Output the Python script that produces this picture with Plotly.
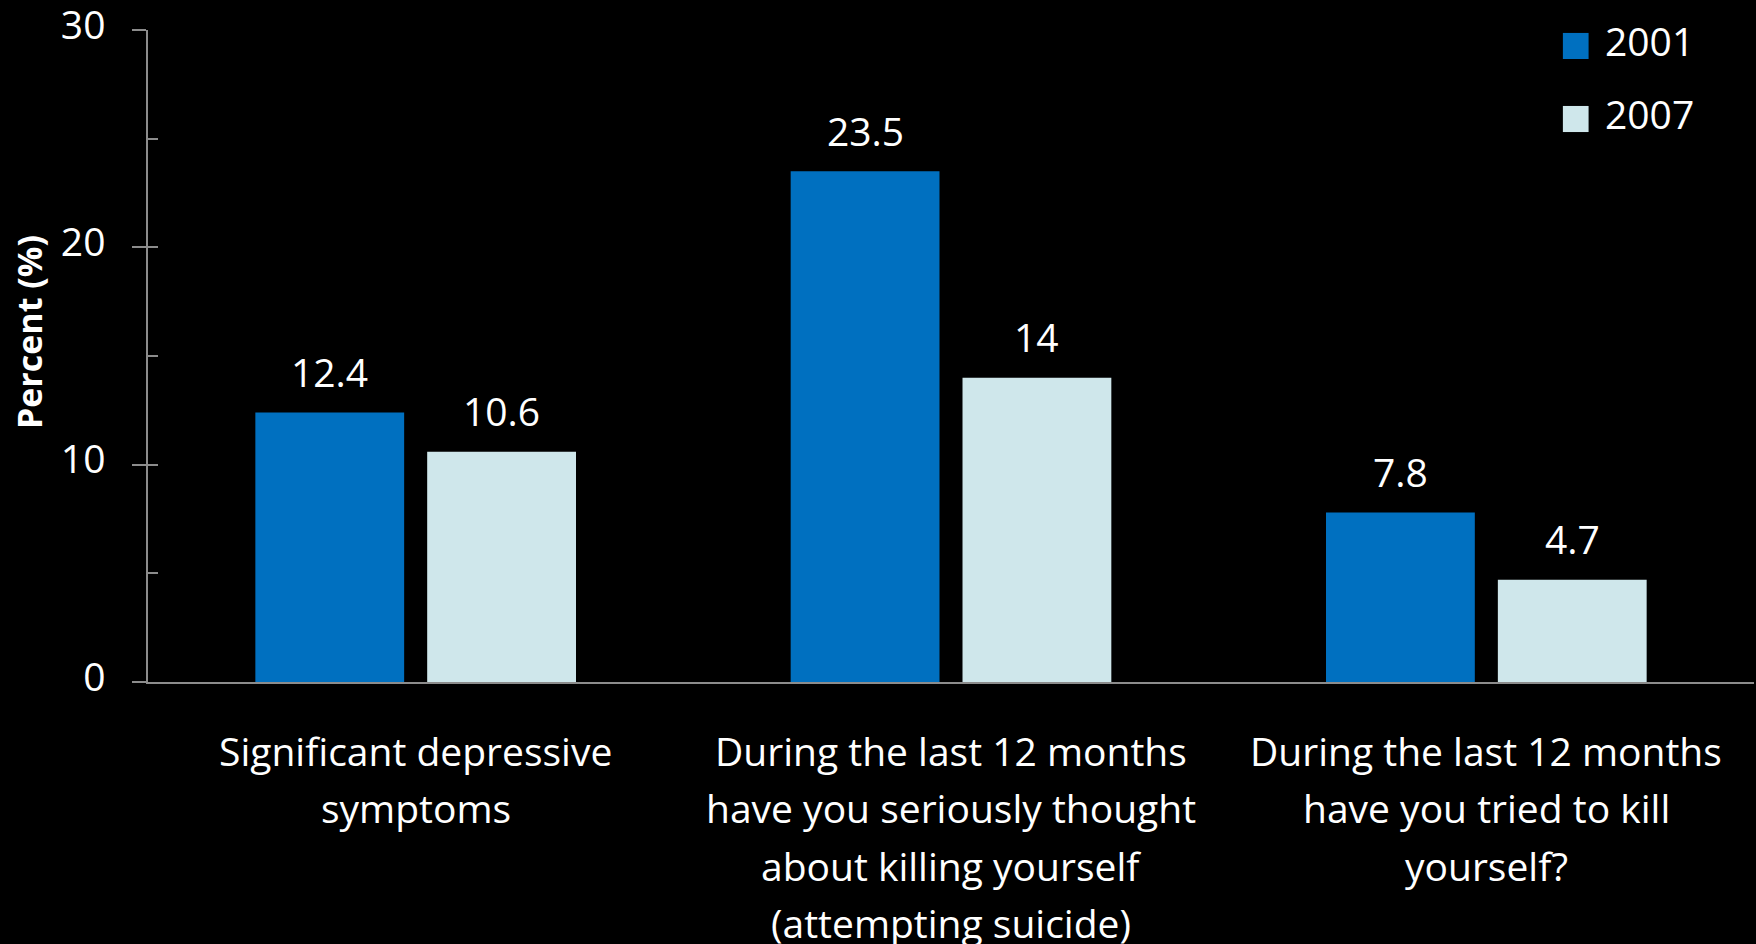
import plotly.graph_objects as go

# ---- data ----
categories = [
    "Significant depressive<br>symptoms",
    "During the last 12 months<br>have you seriously thought<br>about killing yourself<br>(attempting suicide)",
    "During the last 12 months<br>have you tried to kill<br>yourself?",
]
years = ["2001", "2007"]
values_2001 = [12.4, 23.5, 7.8]
values_2007 = [10.6, 14.0, 4.7]
labels_2001 = ["12.4", "23.5", "7.8"]
labels_2007 = ["10.6", "14", "4.7"]
y_tick_vals = [0, 10, 20, 30]
y_title = "Percent (%)"

# ---- style ----
colors = ["#0070C0", "#CFE7EB"]
axis_gray = "#8c8c8c"
FONT = "Open Sans"
FS = 39
BARGAP = 0.358
GROUPGAP = 0.134
LINE_STEP = 57.5    # px between category label lines
FIRST_LINE = 68     # px from axis to first label line centre

series = [values_2001, values_2007]
series_labels = [labels_2001, labels_2007]

fig = go.Figure()
for name, vals, col in zip(years, series, colors):
    fig.add_trace(go.Bar(x=categories, y=vals, name=name, marker_color=col,
                         marker_line_width=0, showlegend=False))

# dummy trace for secondary (inside-tick) y axis
fig.add_trace(go.Scatter(x=[categories[0]], y=[None], yaxis="y2", showlegend=False,
                         hoverinfo="skip"))

annotations = []
slot = (1 - BARGAP) / len(years)
for k, (vals, labs) in enumerate(zip(series, series_labels)):
    off = -(1 - BARGAP) / 2 + slot * (k + 0.5)
    for i, (v, lab) in enumerate(zip(vals, labs)):
        annotations.append(dict(x=i + off, y=v, xref="x", yref="y", text=lab,
                                showarrow=False, yanchor="middle", yshift=41,
                                font=dict(family=FONT, size=FS, color="white")))

# category labels (one annotation per line for the wider line spacing)
for i, cat in enumerate(categories):
    for j, line in enumerate(cat.split("<br>")):
        annotations.append(dict(x=i, y=0, xref="x", yref="y", text=line,
                                showarrow=False, xanchor="center", yanchor="middle",
                                yshift=-(FIRST_LINE + LINE_STEP * j),
                                font=dict(family=FONT, size=FS, color="white")))

# axis title
annotations.append(dict(x=0, y=16.1, xref="paper", yref="y", text="<b>" + y_title + "</b>",
                        textangle=-90, showarrow=False, xanchor="center", yanchor="middle",
                        xshift=-119, font=dict(family=FONT, size=34, color="white")))

# manual legend
shapes = []
leg_y = [0.9755, 0.8635]
for name, col, yc in zip(years, colors, leg_y):
    shapes.append(dict(type="rect", xref="paper", yref="paper",
                       x0=0.881, x1=0.897, y0=yc - 0.02, y1=yc + 0.02,
                       fillcolor=col, line_width=0))
    annotations.append(dict(x=0.906, y=yc + 0.008, xref="paper", yref="paper", text=name,
                            showarrow=False, xanchor="left", yanchor="middle",
                            font=dict(family=FONT, size=FS, color="white")))

fig.update_layout(
    width=1756, height=944,
    paper_bgcolor="black", plot_bgcolor="black",
    margin=dict(l=148, r=2, t=30, b=262, autoexpand=False),
    barmode="group", bargap=BARGAP, bargroupgap=GROUPGAP,
    font=dict(family=FONT, size=FS, color="white"),
    showlegend=False,
    annotations=annotations,
    shapes=shapes,
    xaxis=dict(showline=True, linecolor=axis_gray, linewidth=1.5, ticks="",
               showgrid=False, zeroline=False, showticklabels=False, automargin=False),
    yaxis=dict(range=[0, 30], tickvals=y_tick_vals, ticks="outside", ticklen=14,
               tickcolor=axis_gray, tickwidth=1.5, showline=True, linecolor=axis_gray,
               linewidth=1.5, showgrid=False, zeroline=False, ticklabelstandoff=19,
               ticklabelshift=-5, ticklabeloverflow="allow", automargin=False,
               tickfont=dict(family=FONT, size=FS, color="white")),
    yaxis2=dict(range=[0, 30], overlaying="y", side="left", anchor="x", dtick=5, tick0=0,
                ticks="inside", ticklen=10, tickcolor=axis_gray, tickwidth=1.5,
                showticklabels=False, showline=False, showgrid=False, zeroline=False,
                automargin=False),
)

fig.write_html("out.html", config={"displayModeBar": False},
               post_script="document.body.style.margin='0';document.body.style.overflow='hidden';")
